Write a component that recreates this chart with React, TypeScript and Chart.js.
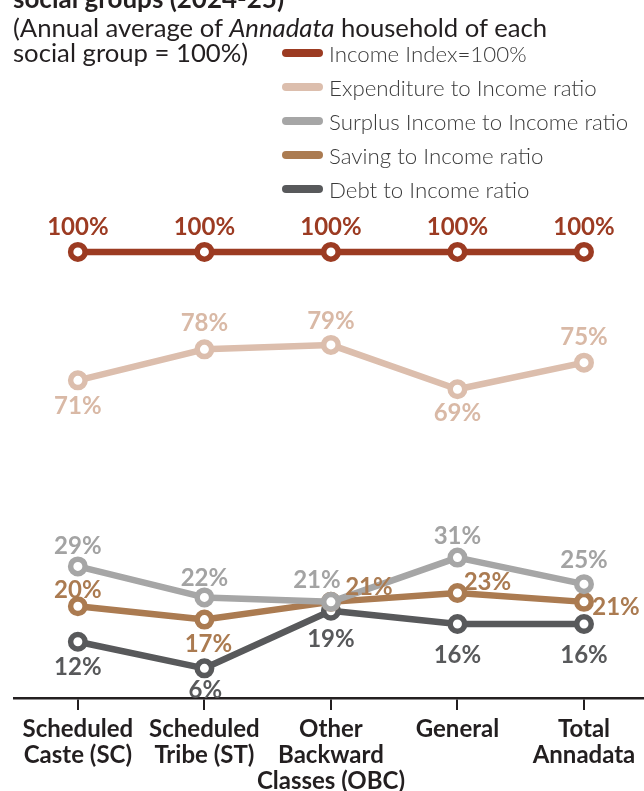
import React, { useEffect, useRef } from "react";
import { Chart, registerables } from "chart.js";

Chart.register(...registerables);

// ---- data ----
const categories: string[][] = [
  ["Scheduled", "Caste (SC)"],
  ["Scheduled", "Tribe (ST)"],
  ["Other", "Backward", "Classes (OBC)"],
  ["General"],
  ["Total", "Annadata"],
];
const seriesNames = [
  "Income Index=100%",
  "Expenditure to Income ratio",
  "Surplus Income to Income ratio",
  "Saving to Income ratio",
  "Debt to Income ratio",
];
const incomeIndex = [100, 100, 100, 100, 100];
const expenditureRatio = [71, 78, 79, 69, 75];
const surplusRatio = [29, 22, 21, 31, 25];
const savingRatio = [20, 17, 21, 23, 21];
const debtRatio = [12, 6, 19, 16, 16];

// ---- styles ----
const lineColors = ["#9c3b22", "#dcbead", "#a6a6a6", "#ab7b51", "#58595b"];
const labelColors = ["#9c3b22", "#d9b9a6", "#a3a3a3", "#ab7b51", "#58595b"];
// label placement (dx, dy) relative to each point
const labelOffsets: number[][][] = [
  [[0, -25], [0, -25], [0, -25], [0, -25], [0, -25]],
  [[0, 26], [0, -26], [0, -24], [0, 24], [0, -25]],
  [[0, -20], [0, -19], [-14, -22], [0, -21], [0, -24]],
  [[0, -16], [4, 25], [38, -15], [30, -11], [32, 5]],
  [[0, 26], [1, 22], [0, 29], [0, 31], [0, 31]],
];

const valueLabels = {
  id: "valueLabels",
  afterDatasetsDraw(chart: any) {
    const ctx = chart.ctx;
    ctx.save();
    ctx.font = "bold 24px Lato";
    ctx.textAlign = "center";
    ctx.textBaseline = "middle";
    chart.data.datasets.forEach((ds: any, i: number) => {
      const meta = chart.getDatasetMeta(i);
      meta.data.forEach((pt: any, j: number) => {
        const [dx, dy] = labelOffsets[i][j];
        ctx.fillStyle = labelColors[i];
        ctx.fillText(`${ds.data[j]}%`, pt.x + dx, pt.y + dy);
      });
    });
    ctx.restore();
  },
};

export default function App() {
  const canvasRef = useRef<HTMLCanvasElement | null>(null);

  useEffect(() => {
    document.body.style.margin = "0";
    let chart: Chart | null = null;
    let cancelled = false;
    const build = () => {
      if (cancelled || !canvasRef.current) return;
      const series = [incomeIndex, expenditureRatio, surplusRatio, savingRatio, debtRatio];
      chart = new Chart(canvasRef.current, {
        type: "line",
        data: {
          labels: categories,
          datasets: series.map((d, i) => ({
            label: seriesNames[i],
            data: d,
            borderColor: lineColors[i],
            pointBorderColor: lineColors[i],
            pointBackgroundColor: "#ffffff",
            backgroundColor: lineColors[i],
            fill: false,
          })),
        },
        options: {
          animation: false,
          responsive: false,
          maintainAspectRatio: false,
          layout: { padding: { left: 14.6, right: 8.3, top: 207.6, bottom: 0 } },
          plugins: {
            legend: { display: false },
            title: { display: false },
            tooltip: { enabled: false },
          },
          elements: {
            line: { tension: 0, borderWidth: 6.5, borderCapStyle: "round", borderJoinStyle: "round" },
            point: { radius: 7.25, hoverRadius: 7.25, borderWidth: 5.5 },
          },
          scales: {
            x: {
              offset: true,
              grid: {
                display: true,
                drawOnChartArea: false,
                drawTicks: true,
                tickLength: 12,
                offset: false,
                color: "#231f20",
                lineWidth: 2,
              },
              border: { display: true, color: "#231f20", width: 2.5 },
              ticks: {
                color: "#231f20",
                font: { family: "Lato", weight: "bold", size: 24, lineHeight: 1.08 },
                padding: 6,
                maxRotation: 0,
                autoSkip: false,
              },
              afterFit: (s: any) => {
                s.height = 93;
              },
            },
            y: { display: false, min: -0.7, max: 110 },
          },
        },
        plugins: [valueLabels],
      } as any);
    };
    Promise.all([
      document.fonts.load("bold 24px Lato"),
      document.fonts.load("22px Lato"),
    ])
      .catch(() => {})
      .then(build);
    return () => {
      cancelled = true;
      if (chart) chart.destroy();
    };
  }, []);

  return (
    <div
      style={{
        position: "relative",
        width: 644,
        height: 791,
        overflow: "hidden",
        background: "#ffffff",
        fontFamily: "Lato, sans-serif",
        color: "#231f20",
      }}
    >
      <canvas ref={canvasRef} width={660} height={791} style={{ display: "block" }} />
      <div
        style={{
          position: "absolute",
          left: 13,
          top: -15,
          fontSize: 26,
          lineHeight: "26px",
          fontWeight: 700,
          whiteSpace: "nowrap",
        }}
      >
        social groups (2024-25)
      </div>
      <div
        style={{
          position: "absolute",
          left: 13,
          top: 15,
          fontSize: 25.7,
          lineHeight: "25px",
          whiteSpace: "nowrap",
        }}
      >
        (Annual average of <i>Annadata</i> household of each
        <br />
        social group = 100%)
      </div>
      <div style={{ position: "absolute", left: 282, top: 36 }}>
        {seriesNames.map((name, i) => (
          <div
            key={name}
            style={{ display: "flex", alignItems: "center", height: 34 }}
          >
            <span
              style={{
                display: "inline-block",
                width: 41,
                height: 8,
                borderRadius: 4,
                background: lineColors[i],
                marginRight: 6,
              }}
            />
            <span
              style={{
                fontSize: 22.3,
                fontWeight: 300,
                color: "#3a3a3a",
                whiteSpace: "nowrap",
              }}
            >
              {name}
            </span>
          </div>
        ))}
      </div>
    </div>
  );
}
